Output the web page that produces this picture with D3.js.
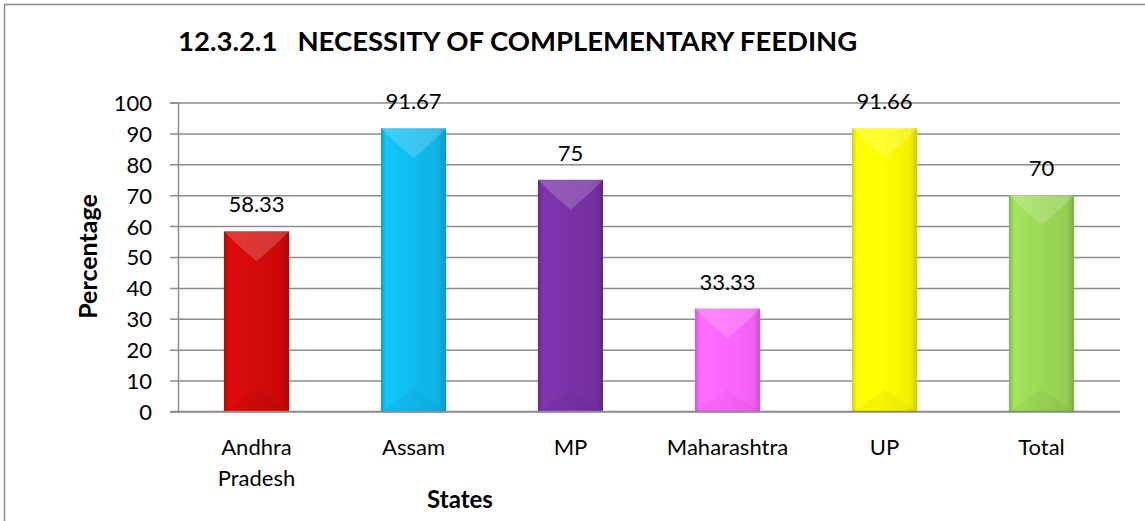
<!DOCTYPE html>
<html>
<head>
<meta charset="utf-8">
<script src="https://cdn.jsdelivr.net/npm/d3@7"></script>
<style>
  body { margin: 0; background: #fff; }
  text { font-family: Lato, "Open Sans", sans-serif; fill: #000; }
</style>
</head>
<body>
<div id="chart"></div>
<script>
// chart values
const states = ['Andhra Pradesh', 'Assam', 'MP', 'Maharashtra', 'UP', 'Total'];
const percentages = [58.33, 91.67, 75, 33.33, 91.66, 70];
const valueLabels = ['58.33', '91.67', '75', '33.33', '91.66', '70'];
const barColors = ['#d40a0a', '#0fbcf0', '#7a32a8', '#ff66ff', '#ffff00', '#9bd956'];
const yTicks = [0, 10, 20, 30, 40, 50, 60, 70, 80, 90, 100];

const width = 1145, height = 521;
const plotLeft = 178, plotRight = 1120, plotTop = 102.5, plotBottom = 411.5;

const svg = d3.select('#chart')
    .append('svg')
    .attr('width', width)
    .attr('height', height);

// outer frame (only top + left show)
svg.append('path')
    .attr('d', 'M4.5,' + height + 'V4.5H' + width)
    .attr('fill', 'none')
    .attr('stroke', '#8c8c8c')
    .attr('stroke-width', 1.5);

let scaleY = d3.scaleLinear().domain([0, 100]).range([plotBottom, plotTop]);
let scaleX = d3.scaleBand().domain(states).range([plotLeft, plotRight]).padding(0);
const barW = scaleX.bandwidth() * 0.415;

// gridlines + y ticks
let yAxis = d3.axisLeft(scaleY).tickValues(yTicks).tickSize(8).tickFormat(d3.format('d'));
let yAxisGroup = svg.append('g')
    .attr('transform', 'translate(' + plotLeft + ',0)')
    .call(yAxis);
yAxisGroup.select('.domain').attr('stroke', '#8c8c8c').attr('stroke-width', 1.5);
yAxisGroup.selectAll('.tick line').attr('stroke', '#8c8c8c').attr('stroke-width', 1.5)
    .attr('x2', plotRight - plotLeft).attr('x1', -8);
yAxisGroup.selectAll('.tick text')
    .attr('x', -26)
    .attr('dy', '0.36em')
    .style('font-family', 'Lato, sans-serif')
    .style('font-size', '22px')
    .attr('fill', '#000');

// gradients for the bevelled look
const defs = svg.append('defs');
barColors.forEach((c, i) => {
    let g = defs.append('linearGradient').attr('id', 'grad' + i)
        .attr('x1', '0%').attr('x2', '100%').attr('y1', '0%').attr('y2', '0%');
    let base = d3.color(c);
    g.append('stop').attr('offset', '0%').attr('stop-color', base.darker(0.5));
    g.append('stop').attr('offset', '8%').attr('stop-color', base.brighter(0.15));
    g.append('stop').attr('offset', '45%').attr('stop-color', base);
    g.append('stop').attr('offset', '88%').attr('stop-color', base.darker(0.15));
    g.append('stop').attr('offset', '100%').attr('stop-color', base.darker(0.6));
});

let bars = svg.selectAll('.bar').data(states).enter().append('g').attr('class', 'bar');

bars.append('rect')
    .attr('x', d => scaleX(d) + scaleX.bandwidth() / 2 - barW / 2)
    .attr('y', (d, i) => scaleY(percentages[i]))
    .attr('width', barW)
    .attr('height', (d, i) => scaleY(0) - scaleY(percentages[i]))
    .attr('fill', (d, i) => 'url(#grad' + i + ')');

// top bevel
bars.append('path')
    .attr('d', (d, i) => {
        let x0 = scaleX(d) + scaleX.bandwidth() / 2 - barW / 2;
        let y0 = scaleY(percentages[i]);
        return 'M' + x0 + ',' + y0 + 'H' + (x0 + barW) + 'L' + (x0 + barW - 12) + ',' + (y0 + 12)
            + 'L' + (x0 + barW / 2) + ',' + (y0 + 30) + 'L' + (x0 + 12) + ',' + (y0 + 12) + 'Z';
    })
    .attr('fill', '#fff')
    .attr('fill-opacity', 0.18);

// bottom bevel
bars.append('path')
    .attr('d', (d, i) => {
        let x0 = scaleX(d) + scaleX.bandwidth() / 2 - barW / 2;
        let y1 = scaleY(0);
        return 'M' + x0 + ',' + y1 + 'H' + (x0 + barW) + 'L' + (x0 + barW / 2) + ',' + (y1 - 22) + 'Z';
    })
    .attr('fill', '#000')
    .attr('fill-opacity', 0.04);

// value labels
bars.append('text')
    .attr('x', d => scaleX(d) + scaleX.bandwidth() / 2)
    .attr('y', (d, i) => scaleY(percentages[i]) - 19)
    .style('text-anchor', 'middle')
    .style('font-size', '22px')
    .text((d, i) => valueLabels[i]);

// baseline
svg.append('line')
    .attr('x1', plotLeft - 8).attr('x2', plotRight)
    .attr('y1', plotBottom).attr('y2', plotBottom)
    .attr('stroke', '#8c8c8c').attr('stroke-width', 1.5);

// category labels
let cat = svg.selectAll('.cat').data(states).enter().append('text')
    .attr('class', 'cat')
    .attr('x', d => scaleX(d) + scaleX.bandwidth() / 2)
    .attr('y', 455)
    .style('text-anchor', 'middle')
    .style('font-size', '22px');
cat.each(function(d) {
    let words = d === 'Andhra Pradesh' ? ['Andhra', 'Pradesh'] : [d];
    let t = d3.select(this);
    words.forEach((w, k) => {
        t.append('tspan')
            .attr('x', scaleX(d) + scaleX.bandwidth() / 2)
            .attr('dy', k === 0 ? 0 : 31)
            .text(w);
    });
});

// title
svg.append('text')
    .attr('x', 178)
    .attr('y', 51)
    .style('font-size', '27.5px')
    .style('font-weight', 'bold')
    .style('white-space', 'pre')
    .text('12.3.2.1\u00a0\u00a0\u00a0NECESSITY OF COMPLEMENTARY FEEDING');

// axis titles
svg.append('text')
    .attr('transform', 'translate(97,256.5) rotate(-90)')
    .style('text-anchor', 'middle')
    .style('font-size', '25px')
    .style('font-weight', 'bold')
    .text('Percentage');

svg.append('text')
    .attr('x', 460)
    .attr('y', 508)
    .style('text-anchor', 'middle')
    .style('font-size', '24px')
    .style('font-weight', 'bold')
    .text('States');
</script>
</body>
</html>
